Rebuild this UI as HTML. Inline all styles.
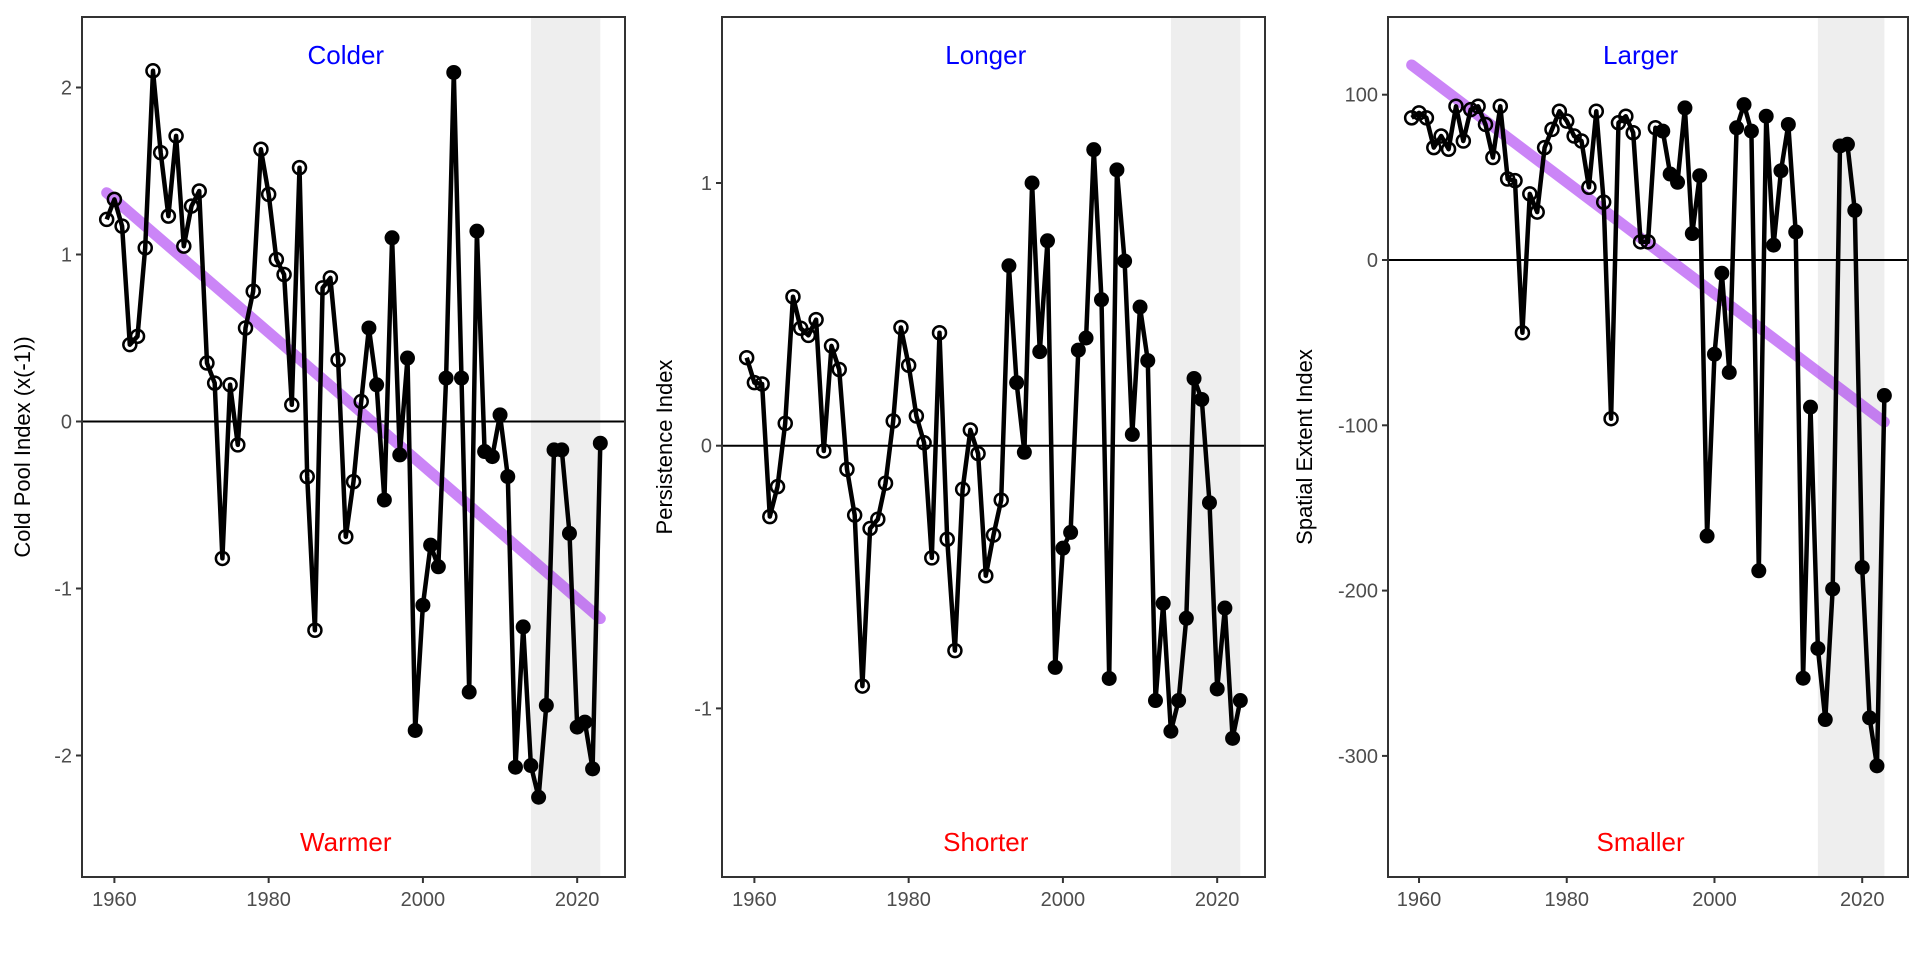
<!DOCTYPE html>
<html><head><meta charset="utf-8">
<style>
html,body{margin:0;padding:0;background:#fff;}
svg{display:block;font-family:"Liberation Sans",Arial,sans-serif;}
</style></head>
<body>
<svg id="chart" width="1920" height="960" viewBox="0 0 1920 960" xmlns="http://www.w3.org/2000/svg"></svg>
<script>
const years = [];
for (let y = 1959; y <= 2023; y++) years.push(y);
const coldPool = [1.21,1.33,1.17,0.46,0.51,1.04,2.10,1.61,1.23,1.71,1.05,1.29,1.38,0.35,0.23,-0.82,0.22,-0.14,0.56,0.78,1.63,1.36,0.97,0.88,0.10,1.52,-0.33,-1.25,0.80,0.86,0.37,-0.69,-0.36,0.12,0.56,0.22,-0.47,1.10,-0.20,0.38,-1.85,-1.10,-0.74,-0.87,0.26,2.09,0.26,-1.62,1.14,-0.18,-0.21,0.04,-0.33,-2.07,-1.23,-2.06,-2.25,-1.70,-0.17,-0.17,-0.67,-1.83,-1.80,-2.08,-0.13];
const persistence = [0.335,0.24,0.235,-0.27,-0.156,0.085,0.567,0.447,0.42,0.48,-0.02,0.38,0.29,-0.09,-0.264,-0.915,-0.315,-0.28,-0.143,0.094,0.45,0.306,0.113,0.011,-0.427,0.43,-0.356,-0.78,-0.166,0.06,-0.03,-0.495,-0.34,-0.207,0.685,0.24,-0.025,1.0,0.358,0.78,-0.844,-0.39,-0.33,0.364,0.41,1.127,0.556,-0.886,1.05,0.703,0.043,0.528,0.324,-0.97,-0.60,-1.087,-0.97,-0.657,0.256,0.176,-0.217,-0.926,-0.618,-1.114,-0.97];
const extent = [86,89,86,68,75,67,93,72,91,93,82,62,93,49,48,-44,40,29,68,79,90,84,75,72,44,90,35,-96,83,87,77,11,11,80,78,52,47,92,16,51,-167,-57,-8,-68,80,94,78,-188,87,9,54,82,17,-253,-89,-235,-278,-199,69,70,30,-186,-277,-306,-82];
const coldTrend = [1.37,-1.18];
const extentTrend = [118,-98];
const trendYears = [1959,2023];
const openUntilYear = 1992;
const shadeYears = [2014,2023];
const xTicks = [1960,1980,2000,2020];
const coldTicks = [2,1,0,-1,-2];
const persTicks = [1,0,-1];
const extentTicks = [100,0,-100,-200,-300];

const NS = "http://www.w3.org/2000/svg";
const svg = document.getElementById('chart');
function mk(tag, attrs, parent){
  const e = document.createElementNS(NS, tag);
  for (const k in attrs) e.setAttribute(k, attrs[k]);
  (parent||svg).appendChild(e);
  return e;
}
const XMIN = 1955.8, XMAX = 2026.2, TOP = 17, BOT = 877;

function panel(cfg){
  const g = mk('g', {});
  
  
  const X = v => cfg.left + (v - XMIN) / (XMAX - XMIN) * (cfg.right - cfg.left);
  const Y = v => cfg.zeroY - v * cfg.pxPerUnit;
  const sh = mk('rect', {x:X(shadeYears[0]), y:TOP, width:X(shadeYears[1])-X(shadeYears[0]), height:BOT-TOP, fill:'#eeeeee'}, g);
  
  
  const zl = mk('line', {x1:cfg.left, x2:cfg.right, y1:Y(0), y2:Y(0), stroke:'#000', 'stroke-width':2}, g);
  
  
  if (cfg.trend){
    const tl = mk('line', {x1:X(trendYears[0]), y1:Y(cfg.trend[0]), x2:X(trendYears[1]), y2:Y(cfg.trend[1]), stroke:'#a020f0', 'stroke-opacity':0.55, 'stroke-width':11, 'stroke-linecap':'round'}, g);
    
    
  }
  const pts = cfg.values.map((v,i) => X(years[i]).toFixed(1) + ',' + Y(v).toFixed(1)).join(' ');
  const pl = mk('polyline', {points:pts, fill:'none', stroke:'#000', 'stroke-width':4.5, 'stroke-linejoin':'round'}, g);
  
  
  cfg.values.forEach((v,i) => {
    const open = years[i] <= openUntilYear;
    const c = mk('circle', {cx:X(years[i]), cy:Y(v), r: open ? 6.5 : 7.5, fill:'#000', 'fill-opacity': open ? 0 : 1, stroke:'#000', 'stroke-width': open ? 2.5 : 0}, g);
    
    
  });
  const bd = mk('rect', {x:cfg.left, y:TOP, width:cfg.right-cfg.left, height:BOT-TOP, fill:'none', stroke:'#333', 'stroke-width':2}, g);
  
  
  cfg.ticks.forEach(t => {
    mk('line', {x1:cfg.left-6, x2:cfg.left, y1:Y(t), y2:Y(t), stroke:'#333', 'stroke-width':2}, g);
    const tx = mk('text', {x:cfg.left-10, y:Y(t)+7, 'text-anchor':'end', 'font-size':20, fill:'#4d4d4d'}, g);
    tx.textContent = t;
    
    
  });
  xTicks.forEach(t => {
    mk('line', {x1:X(t), x2:X(t), y1:BOT, y2:BOT+6, stroke:'#333', 'stroke-width':2}, g);
    const tx = mk('text', {x:X(t), y:BOT+29, 'text-anchor':'middle', 'font-size':20, fill:'#4d4d4d'}, g);
    tx.textContent = t;
    
    
  });
  const at = mk('text', {x:0, y:0, 'text-anchor':'middle', 'font-size':22, fill:'#000', transform:'translate(' + cfg.titleX + ',' + (TOP+BOT)/2 + ') rotate(-90)'}, g);
  at.textContent = cfg.title;
  
  
  const hi = mk('text', {x:X(1990), y:64, 'text-anchor':'middle', 'font-size':26, fill:'#0000ff'}, g);
  hi.textContent = cfg.hi;
  
  
  const lo = mk('text', {x:X(1990), y:851, 'text-anchor':'middle', 'font-size':26, fill:'#ff0000'}, g);
  lo.textContent = cfg.lo;
  
  
}

panel({name:'cold-pool-panel', left:82, right:625, zeroY:421.5, pxPerUnit:167, values:coldPool, trend:coldTrend, ticks:coldTicks, title:'Cold Pool Index (x(-1))', titleX:30, hi:'Colder', lo:'Warmer'});
panel({name:'persistence-panel', left:722, right:1265, zeroY:445.7, pxPerUnit:262.7, values:persistence, trend:null, ticks:persTicks, title:'Persistence Index', titleX:672, hi:'Longer', lo:'Shorter'});
panel({name:'spatial-extent-panel', left:1388, right:1908, zeroY:260, pxPerUnit:1.653, values:extent, trend:extentTrend, ticks:extentTicks, title:'Spatial Extent Index', titleX:1312, hi:'Larger', lo:'Smaller'});
</script>
</body></html>
